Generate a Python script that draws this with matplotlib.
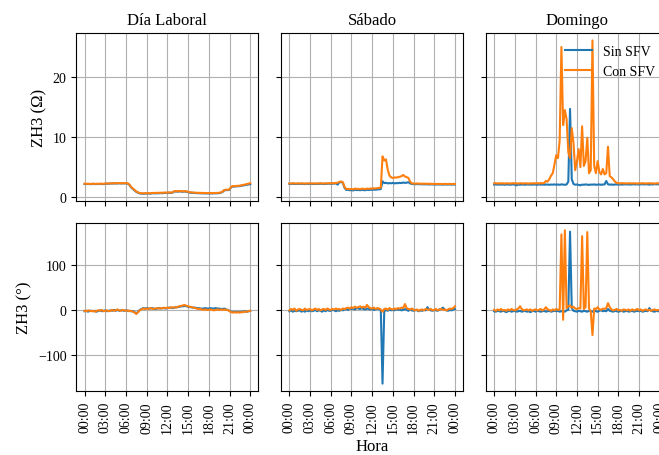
import numpy as np
import pandas as pd
import matplotlib
matplotlib.use('Agg')
import matplotlib.pyplot as plt
import matplotlib.dates as mdates
from matplotlib.ticker import MultipleLocator

plt.rcParams['font.family'] = 'serif'
plt.rcParams['font.serif'] = ['Liberation Serif', 'DejaVu Serif']
plt.rcParams['font.size'] = 10

# registros cada 15 min, de 00:00 a 00:00 del dia siguiente
hora = pd.date_range('2023-01-01 00:00', periods=97, freq='15min')

dias = ['Día Laboral', 'Sábado', 'Domingo']

# --- Dia laboral ---
mag_lab_sin = [2.20, 2.18, 2.21, 2.17, 2.19, 2.22, 2.18, 2.20, 2.19, 2.21, 2.20, 2.18,
               2.23, 2.26, 2.24, 2.28, 2.27, 2.30, 2.28, 2.29, 2.31, 2.29, 2.30, 2.30,
               2.31, 2.26, 2.05, 1.62, 1.38, 1.12, 0.88, 0.74, 0.63, 0.60, 0.58, 0.61,
               0.60, 0.62, 0.59, 0.64, 0.66, 0.63, 0.67, 0.65, 0.69, 0.66, 0.71, 0.70,
               0.72, 0.74, 0.71, 0.76, 0.94, 0.96, 0.92, 0.97, 0.94, 0.91, 0.95, 0.92,
               0.84, 0.76, 0.74, 0.72, 0.70, 0.68, 0.66, 0.67, 0.64, 0.65, 0.63, 0.64,
               0.62, 0.64, 0.63, 0.65, 0.64, 0.66, 0.68, 0.74, 0.89, 1.14, 1.19, 1.18,
               1.24, 1.68, 1.78, 1.77, 1.81, 1.83, 1.85, 1.92, 1.96, 2.01, 2.08, 2.12,
               2.18]
mag_lab_con = [2.25, 2.22, 2.24, 2.20, 2.23, 2.25, 2.21, 2.24, 2.22, 2.26, 2.24, 2.23,
               2.27, 2.30, 2.28, 2.32, 2.30, 2.34, 2.31, 2.33, 2.35, 2.32, 2.34, 2.33,
               2.35, 2.30, 2.10, 1.70, 1.45, 1.20, 0.95, 0.80, 0.70, 0.66, 0.65, 0.67,
               0.66, 0.68, 0.66, 0.70, 0.72, 0.70, 0.74, 0.72, 0.75, 0.73, 0.78, 0.76,
               0.78, 0.80, 0.77, 0.82, 1.00, 1.02, 0.98, 1.03, 1.00, 0.97, 1.01, 0.98,
               0.90, 0.82, 0.80, 0.78, 0.76, 0.74, 0.72, 0.73, 0.70, 0.71, 0.69, 0.70,
               0.68, 0.70, 0.69, 0.71, 0.70, 0.72, 0.74, 0.80, 0.95, 1.20, 1.25, 1.24,
               1.30, 1.75, 1.85, 1.84, 1.88, 1.90, 1.92, 2.00, 2.05, 2.10, 2.20, 2.25,
               2.35]
ang_lab_sin = [-3, -2, -4, -2, -2, -3, -2, -4, -2, -1, -3, -2, -1, -3, -2, -1,
               -2, 0, -2, 0, -2, -1, -1, -2, -1, -2, -2, -3, -3, -5, -8, -4,
               0, 2, 4, 3, 4, 3, 3, 4, 3, 2, 3, 4, 3, 4, 4, 3,
               4, 5, 5, 4, 5, 6, 6, 7, 8, 8, 9, 8, 7, 6, 6, 5,
               5, 4, 4, 3, 3, 3, 4, 3, 3, 4, 3, 3, 4, 3, 3, 2,
               2, 3, 1, 0, -2, -4, -5, -4, -5, -4, -5, -4, -4, -3, -4, -3,
               -2]
ang_lab_con = [-2, -3, -1, -2, -3, -2, -4, -2, -1, -2, 0, -3, -2, -1, -3, -2,
               0, -2, -1, 1, -1, -2, 0, -1, -2, -1, -3, -2, -4, -6, -9, -5,
               -1, 1, 3, 2, 3, 2, 4, 3, 2, 3, 4, 3, 4, 3, 5, 4,
               5, 4, 6, 5, 6, 5, 7, 8, 9, 10, 11, 9, 8, 7, 6, 5,
               4, 3, 2, 2, 1, 0, 1, 0, 0, 1, 0, -1, 0, 1, 0, 1,
               0, 1, 0, 0, -3, -5, -6, -5, -6, -5, -6, -5, -5, -4, -4, -3,
               -2]

# --- Sabado ---
mag_sab_sin = [2.22, 2.20, 2.25, 2.21, 2.19, 2.24, 2.21, 2.23, 2.22, 2.18, 2.23, 2.20,
               2.24, 2.20, 2.22, 2.19, 2.23, 2.21, 2.25, 2.22, 2.20, 2.23, 2.22, 2.26,
               2.23, 2.25, 2.27, 2.30, 2.10, 2.45, 2.55, 2.40, 1.55, 1.20, 1.25, 1.15,
               1.20, 1.12, 1.25, 1.18, 1.22, 1.15, 1.24, 1.18, 1.16, 1.25, 1.19, 1.26,
               1.22, 1.28, 1.24, 1.30, 1.32, 1.36, 2.65, 2.35, 2.40, 2.30, 2.35, 2.32,
               2.38, 2.30, 2.36, 2.33, 2.40, 2.35, 2.45, 2.38, 2.42, 2.50, 2.30, 2.20,
               2.18, 2.16, 2.20, 2.15, 2.18, 2.13, 2.17, 2.14, 2.16, 2.11, 2.15, 2.12,
               2.14, 2.10, 2.13, 2.11, 2.12, 2.09, 2.14, 2.10, 2.11, 2.13, 2.09, 2.12,
               2.11]
mag_sab_con = [2.30, 2.28, 2.33, 2.30, 2.27, 2.32, 2.29, 2.31, 2.30, 2.26, 2.31, 2.29,
               2.32, 2.28, 2.30, 2.27, 2.31, 2.29, 2.33, 2.30, 2.28, 2.31, 2.30, 2.34,
               2.31, 2.33, 2.35, 2.38, 2.42, 2.55, 2.62, 2.50, 1.70, 1.35, 1.40, 1.32,
               1.38, 1.30, 1.45, 1.36, 1.40, 1.33, 1.42, 1.38, 1.35, 1.44, 1.38, 1.46,
               1.42, 1.50, 1.45, 1.52, 1.55, 1.60, 6.80, 6.10, 6.30, 4.60, 3.60, 3.30,
               3.20, 3.30, 3.25, 3.35, 3.40, 3.50, 3.70, 3.45, 3.35, 3.20, 2.60, 2.30,
               2.28, 2.25, 2.30, 2.24, 2.27, 2.22, 2.26, 2.23, 2.25, 2.20, 2.24, 2.21,
               2.23, 2.19, 2.22, 2.20, 2.21, 2.18, 2.23, 2.19, 2.20, 2.22, 2.18, 2.21,
               2.20]
ang_sab_sin = [-3, -1, -4, -2, -3, -2, -1, -4, -2, -4, -1, -3, -1, -3, -2, 0,
               -3, -1, -2, -4, -1, -3, 0, -2, -2, 0, -1, -3, -1, -2, 0, -1,
               1, 2, 0, 3, 2, 3, 1, 4, 3, 2, 4, 2, 1, 3, 2, 1,
               2, 0, 1, 3, 1, 0, -164, -3, 0, -2, 1, -1, 0, -1, 2, 0,
               1, -1, 0, 2, 0, -2, 1, -1, -2, 0, -1, -3, -1, -2, 0, -1,
               6, 1, -1, -2, 0, -1, -2, 1, 2, 5, 1, -1, -2, 0, -1, 1,
               2]
ang_sab_con = [-1, 2, 0, 3, -2, 1, 2, 0, -1, 3, 0, 1, 2, -1, 1, 3,
               0, 2, -1, 1, 2, 0, 3, 1, 0, 2, 1, 3, 1, 2, 0, 3,
               2, 4, 5, 3, 6, 4, 7, 5, 6, 8, 5, 7, 5, 11, 6, 4,
               3, 5, 2, 4, 3, 1, -4, 2, 3, 0, 4, 2, 1, 3, 2, 4,
               3, 5, 4, 13, 4, 2, 1, 3, 0, -1, 1, -2, 0, 1, -1, 2,
               1, 0, 2, -1, 0, 2, -1, 1, 2, 0, 1, -1, 1, 3, 2, 4,
               8]

# --- Domingo ---
mag_dom_sin = [2.10, 2.14, 2.08, 2.12, 2.09, 2.13, 2.07, 2.11, 2.12, 2.08, 2.10, 2.14,
               2.09, 1.98, 2.11, 2.08, 2.12, 2.10, 2.07, 2.13, 2.09, 2.11, 2.08, 2.12,
               2.10, 2.07, 2.13, 2.09, 2.11, 2.08, 2.12, 2.10, 2.07, 2.11, 2.09, 2.13,
               2.08, 2.12, 2.06, 2.14, 2.10, 2.07, 2.12, 2.60, 14.70, 3.00, 2.20, 2.08,
               2.12, 2.05, 1.98, 2.10, 2.07, 2.13, 2.09, 2.05, 2.11, 2.08, 2.14, 2.06,
               2.10, 2.12, 2.07, 2.11, 2.13, 2.70, 2.15, 2.09, 2.12, 2.07, 2.11, 2.14,
               2.09, 2.13, 2.10, 2.12, 2.15, 2.11, 2.14, 2.10, 2.13, 2.16, 2.12, 2.15,
               2.11, 2.14, 2.17, 2.12, 2.16, 2.13, 2.10, 2.15, 2.12, 2.17, 2.14, 2.16,
               2.13]
mag_dom_con = [2.30, 2.34, 2.28, 2.32, 2.29, 2.33, 2.27, 2.31, 2.32, 2.28, 2.30, 2.34,
               2.29, 2.31, 2.27, 2.33, 2.31, 2.28, 2.32, 2.30, 2.27, 2.32, 2.29, 2.33,
               2.30, 2.34, 2.29, 2.35, 2.32, 2.36, 2.70, 2.60, 3.00, 3.60, 4.00, 5.50,
               7.00, 6.50, 9.50, 25.00, 12.00, 14.50, 13.00, 7.50, 6.50, 11.50, 9.00, 4.50,
               6.00, 8.00, 5.00, 11.80, 5.20, 6.00, 9.90, 4.00, 4.50, 26.10, 5.20, 4.00,
               6.00, 4.20, 3.80, 4.70, 3.80, 4.00, 8.40, 3.50, 3.30, 3.00, 2.60, 2.40,
               2.33, 2.29, 2.35, 2.30, 2.32, 2.28, 2.34, 2.31, 2.29, 2.33, 2.30, 2.27,
               2.32, 2.29, 2.34, 2.30, 2.28, 2.31, 2.33, 2.29, 2.31, 2.27, 2.30, 2.33,
               2.30]
ang_dom_sin = [-3, -4, -2, -3, -4, -2, -3, -5, -3, -2, -4, -3, -2, -4, -3, -2,
               -4, -3, -2, -4, -3, -5, -3, -2, -4, -2, -3, -4, -3, -2, -4, -3,
               -2, -4, -3, -2, -3, -2, -4, -3, -2, -4, -1, 0, 174, 4, -2, -3,
               -4, -2, -3, -4, -2, -3, -4, -2, -3, -4, -2, -3, -4, -2, -1, -3,
               -2, -3, 2, -2, -3, -4, -2, -3, -4, -3, -2, -4, -3, -2, -4, -3,
               -2, -4, -3, -2, -3, -2, -4, -3, -2, -3, 4, -2, -3, -4, -2, -3,
               -3]
ang_dom_con = [0, -2, 1, -1, 2, -1, 0, -2, 1, -1, 2, 0, -1, 1, 3, 8,
               2, -1, 0, 1, -1, 1, -2, 0, 1, -1, 0, 2, -1, 1, 6, 1,
               0, -2, 1, -1, 2, 0, 1, 168, -22, 177, 4, 8, 10, 5, 7, 3,
               2, 4, 3, 164, 2, 6, 173, 3, -3, -56, 3, 2, 6, 1, 0, 3,
               2, 4, 15, 6, 1, -1, 0, 2, -1, 0, -2, 1, 0, -1, 1, -2,
               1, -1, 0, 2, -1, 1, -2, 0, 1, -1, 0, -2, 0, 1, -1, 0,
               -1]

magnitud = [(mag_lab_sin, mag_lab_con), (mag_sab_sin, mag_sab_con), (mag_dom_sin, mag_dom_con)]
angulo = [(ang_lab_sin, ang_lab_con), (ang_sab_sin, ang_sab_con), (ang_dom_sin, ang_dom_con)]

fig, axes = plt.subplots(2, 3, sharex=True, sharey='row', figsize=(6.59, 4.56), dpi=100)
plt.subplots_adjust(left=0.1158, right=1.0137, bottom=0.1397, top=0.926,
                    wspace=0.124, hspace=0.126)

for j, dia in enumerate(dias):
    sin, con = magnitud[j]
    axes[0, j].plot(hora, sin, color='C0', label='Sin SFV')
    axes[0, j].plot(hora, con, color='C1', label='Con SFV')
    axes[0, j].set_title(dia, fontsize=12)

    sin, con = angulo[j]
    axes[1, j].plot(hora, sin, color='C0')
    axes[1, j].plot(hora, con, color='C1')

    for ax in axes[:, j]:
        ax.grid(True)

axes[0, 0].yaxis.set_major_locator(MultipleLocator(10))
axes[1, 0].yaxis.set_major_locator(MultipleLocator(100))

axes[0, 0].set_ylabel('ZH3 (Ω)', fontsize=12)
axes[1, 0].set_ylabel('ZH3 (°)', fontsize=12)
axes[1, 1].set_xlabel('Hora', fontsize=12)
axes[0, 2].legend(loc='upper right', frameon=False, fontsize=10)

axes[1, 0].xaxis.set_major_locator(mdates.HourLocator(byhour=range(0, 24, 3)))
axes[1, 0].xaxis.set_major_formatter(mdates.DateFormatter('%H:%M'))
for ax in axes[1]:
    ax.tick_params(axis='x', labelrotation=90)

fig.savefig('out.png', dpi=100)
